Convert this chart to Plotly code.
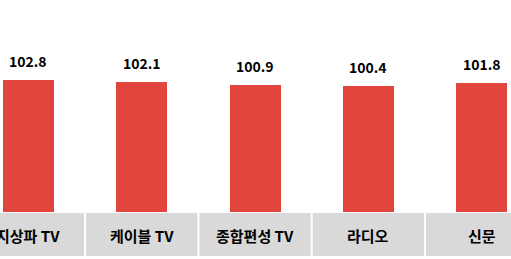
import plotly.graph_objects as go

categories = ["지상파 TV", "케이블 TV", "종합편성 TV", "라디오", "신문"]
values = [102.8, 102.1, 100.9, 100.4, 101.8]
value_labels = ["102.8", "102.1", "100.9", "100.4", "101.8"]

BASE = 50
BAR_COLOR = "#E2453B"
BOX_COLOR = "#D9D9D9"
FONT = "Noto Sans CJK KR"

x_idx = list(range(len(categories)))

fig = go.Figure()
fig.add_trace(go.Bar(
    x=x_idx,
    y=[v - BASE for v in values],
    base=BASE,
    width=0.45,
    marker=dict(color=BAR_COLOR, line=dict(width=0)),
    hoverinfo="skip",
))

annotations = []
shapes = []
for i, (v, lab, cat) in enumerate(zip(values, value_labels, categories)):
    annotations.append(dict(
        x=i, y=v, xref="x", yref="y", text="<b>" + lab + "</b>",
        showarrow=False, yanchor="bottom", yshift=7,
        font=dict(family=FONT, size=14, color="#000000"),
    ))
    annotations.append(dict(
        x=i, y=40.8, xref="x", yref="y", text=cat,
        showarrow=False, yanchor="middle",
        font=dict(family=FONT, size=15, color="#000000", weight=600),
    ))
    shapes.append(dict(
        type="rect", xref="x", yref="y",
        x0=i - 0.5 + 0.009, x1=i + 0.5 - 0.009,
        y0=32.4, y1=49.6,
        fillcolor=BOX_COLOR, line=dict(width=0), layer="below",
    ))

fig.update_layout(
    width=511, height=259,
    margin=dict(l=0, r=0, t=0, b=0),
    paper_bgcolor="white", plot_bgcolor="white",
    showlegend=False,
    xaxis=dict(range=[-0.2515, 4.259], visible=False, fixedrange=True),
    yaxis=dict(range=[31.2, 134.8], visible=False, fixedrange=True),
    annotations=annotations,
    shapes=shapes,
    bargap=0,
)

fig.write_html("out.html")
